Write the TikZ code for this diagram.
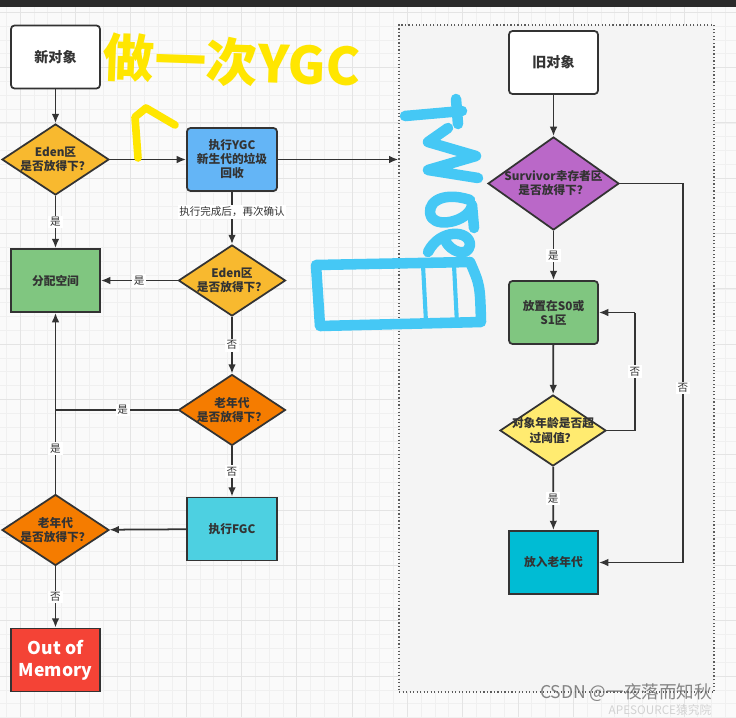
\documentclass[tikz,border=0pt]{standalone}
\usepackage{fontspec}
\setmainfont{Noto Sans CJK SC}
\usepackage{xcolor}
\usepackage{tikz}
\usetikzlibrary{arrows.meta,shapes.geometric}
\definecolor{inkgray}{HTML}{333333}
\definecolor{edenyellow}{HTML}{F8B92F}
\definecolor{ygcblue}{HTML}{64B5F6}
\definecolor{allocgreen}{HTML}{80C680}
\definecolor{oldorange}{HTML}{F57C00}
\definecolor{fgccyan}{HTML}{4DD0E1}
\definecolor{oomred}{HTML}{F44336}
\definecolor{survpurple}{HTML}{BA68C8}
\definecolor{ageyellow}{HTML}{FFEB70}
\definecolor{oldteal}{HTML}{00BCD4}
\definecolor{zonegray}{HTML}{F4F4F4}
\definecolor{gridminor}{HTML}{F0F0F0}
\definecolor{gridmajor}{HTML}{E4E4E4}
\definecolor{penyellow}{HTML}{FFE600}
\definecolor{penblue}{HTML}{45C8F5}
\tikzset{
	box/.style={draw=inkgray, line width=1.5pt, rounded corners=3pt, align=center, minimum width=2.67cm, minimum height=1.89cm, font=\bfseries, text=inkgray},
	sqbox/.style={box, rounded corners=0pt},
	decision/.style={diamond, draw=inkgray, line width=1.5pt, align=center, inner sep=-14pt, font=\bfseries, text=inkgray, minimum width=3.21cm, minimum height=2.13cm},
	arrow/.style={-{Latex[length=8pt,width=6.5pt]}, line width=1.5pt, draw=inkgray},
	line/.style={line width=1.5pt, draw=inkgray},
	yesno/.style={fill=white, inner sep=1.5pt, font=\small, text=inkgray},
	zone/.style={draw=inkgray!80, dotted, line width=1pt, fill=zonegray},
	yellowpen/.style={penyellow, line width=9pt, line cap=round, line join=round},
	bluepen/.style={penblue, line width=9pt, line cap=round, line join=round}
}

\begin{document}
\begin{tikzpicture}[x=0.03cm, y=-0.03cm]
	\useasboundingbox (0,0) rectangle (736,717);
	\fill[white!98!black] (0,0) rectangle (736,717);
	\foreach \gx in {0,...,53}
		\draw[gridminor, line width=0.5pt] ({6.2+13.83*\gx},7) -- ({6.2+13.83*\gx},717);
	\foreach \gy in {0,...,51}
		\draw[gridminor, line width=0.5pt] (0,{12.2+13.83*\gy}) -- (736,{12.2+13.83*\gy});
	\foreach \gx in {0,...,13}
		\draw[gridmajor, line width=0.7pt] ({20.06+55.32*\gx},7) -- ({20.06+55.32*\gx},717);
	\foreach \gy in {0,...,12}
		\draw[gridmajor, line width=0.7pt] (0,{12.2+55.32*\gy}) -- (736,{12.2+55.32*\gy});
	\fill[inkgray!85!black] (0,0) rectangle (736,7);

	\node[zone, minimum width=9.45cm, minimum height=20.01cm] (oldzone) at (556.5,358.5) {};

	\node[box, fill=white, font=\bfseries\large] (newobj) at (55.5,57) {新对象};
	\node[decision, fill=edenyellow] (eden1) at (55.5,159.5) {Eden区\\是否放得下？};
	\node[box, fill=ygcblue, minimum width=2.7cm] (ygc) at (232,159.5) {执行YGC\\新生代的垃圾\\回收};
	\node[decision, fill=edenyellow] (eden2) at (232,280.5) {Eden区\\是否放得下？};
	\node[sqbox, fill=allocgreen] (alloc) at (55.5,280.5) {分配空间};
	\node[decision, fill=oldorange] (old1) at (232,410) {老年代\\是否放得下？};
	\node[sqbox, fill=fgccyan, minimum width=2.7cm] (fgc) at (232,529) {执行FGC};
	\node[decision, fill=oldorange] (old2) at (55.5,530) {老年代\\是否放得下？};
	\node[sqbox, fill=oomred, text=white, font=\bfseries\fontsize{15}{19}\selectfont] (oom) at (55.5,660) {Out of\\Memory};

	\node[box, fill=white, font=\bfseries\large] (oldobj) at (553.5,62.5) {旧对象};
	\node[decision, fill=survpurple, minimum width=3.93cm, minimum height=2.79cm] (surv) at (553.5,183.5) {Survivor幸存者区\\是否放得下？};
	\node[box, fill=allocgreen] (s0s1) at (553.5,312.5) {放置在S0或\\S1区};
	\node[decision, fill=ageyellow, minimum width=3.18cm] (age) at (553,430.5) {对象年龄是否超\\过阈值？};
	\node[sqbox, fill=oldteal] (toold) at (553.5,562.5) {放入老年代};
	\coordinate (agebend) at (635,312.5);
	\coordinate (survbend) at (683,562.5);

	\draw[arrow] (newobj) -- (eden1);
	\draw[arrow] (eden1) -- (ygc);
	\draw[arrow] (ygc) -- (ygc -| oldzone.west);
	\draw[arrow] (ygc) -- node[yesno, pos=0.38] {执行完成后，再次确认} (eden2);
	\draw[arrow] (eden1) -- node[yesno] {是} (alloc);
	\draw[arrow] (eden2) -- node[yesno] {是} (alloc);
	\draw[arrow] (eden2) -- node[yesno] {否} (old1);
	\draw[line] (old1.west) -- node[yesno, pos=0.45] {是} (old1.west -| alloc.south);
	\draw[arrow] (old2) -- node[yesno, pos=0.25] {是} (alloc);
	\draw[arrow] (old1) -- node[yesno] {否} (fgc);
	\draw[arrow] (fgc) -- (old2);
	\draw[arrow] (old2) -- node[yesno] {否} (oom);

	\draw[arrow] (oldobj) -- (surv);
	\draw[arrow] (surv) -- node[yesno] {是} (s0s1);
	\draw[arrow] (s0s1) -- (age);
	\draw[line] (age.east) -| node[yesno, pos=0.75] {否} (agebend);
	\draw[arrow] (agebend) -- (s0s1.east);
	\draw[line] (surv.east) -| node[yesno, pos=0.77] {否} (survbend);
	\draw[arrow] (survbend) -- (toold.east);
	\draw[arrow] (age) -- node[yesno] {是} (toold);

	\node[penyellow, font=\bfseries\fontsize{44}{44}\selectfont, rotate=-2] (ygcnote) at (232,62) {做一次YGC};
	\draw[yellowpen, line width=6.5pt] (138,158) -- (135,117) -- (146,108) -- (175,125);

	\draw[bluepen] (320,326) -- (316,265) -- (470,262) .. controls (480,285) .. (481,322) -- cycle;
	\draw[bluepen, line width=3.5pt] (423,265) -- (426,322);
	\draw[bluepen, line width=3.5pt] (454,265) -- (457,324);
	\draw[bluepen] (405,116) -- (462,111);
	\draw[bluepen] (456,99) -- (458,124);
	\draw[bluepen] (448,128) -- (428,142) -- (476,156) -- (428,170) -- (478,178);
	\draw[bluepen] (470,200) .. controls (440,190) and (424,205) .. (432,218) .. controls (440,228) and (470,220) .. (472,205) -- (474,228);
	\draw[bluepen] (428,252) .. controls (440,228) and (470,230) .. (470,245) .. controls (468,258) and (450,252) .. (445,240);

	\node[text=inkgray!70, opacity=0.85, font=\fontsize{15}{17}\selectfont] (csdn) at (626,693) {CSDN @一夜落而知秋};
	\node[text=gray!35, font=\fontsize{10}{12}\selectfont, inner sep=1pt] (apesource) at (660,710.5) {APESOURCE猿究院};
\end{tikzpicture}
\end{document}
